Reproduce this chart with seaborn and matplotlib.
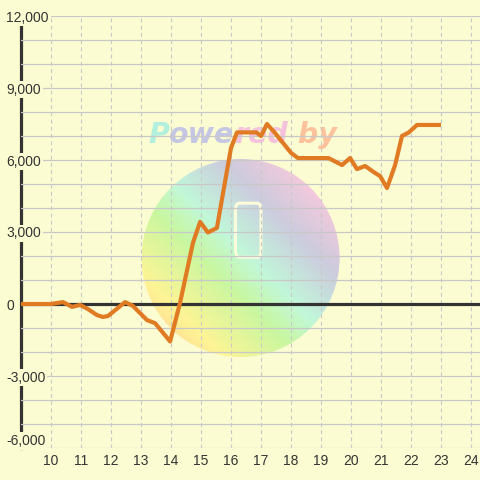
import numpy as np
import pandas as pd
import matplotlib
matplotlib.use("Agg")
import matplotlib.pyplot as plt
import seaborn as sns
from matplotlib.colors import LinearSegmentedColormap
from matplotlib.patches import Ellipse, FancyBboxPatch
from matplotlib.ticker import MultipleLocator, FixedLocator, FuncFormatter

# data
x_vals = [9.0, 10.0, 10.4, 10.7, 10.97, 11.23, 11.53, 11.73, 11.9, 12.47,
          12.73, 13.2, 13.47, 13.97, 14.3, 14.73, 14.97, 15.23, 15.53, 16.0,
          16.2, 16.85, 17.0, 17.2, 17.45, 18.0, 18.23, 19.25, 19.7, 19.97,
          20.2, 20.47, 20.8, 20.97, 21.2, 21.47, 21.7, 21.93, 22.2, 23.0]
y_vals = [0, 0, 80, -120, -40, -210, -460, -540, -500, 80,
          -80, -670, -800, -1560, 40, 2540, 3420, 2980, 3170, 6500,
          7150, 7150, 7000, 7500, 7150, 6300, 6080, 6080, 5790, 6080,
          5620, 5750, 5460, 5330, 4830, 5790, 7000, 7150, 7460, 7460]
x_ticks = list(range(10, 25))
y_ticks = [-6000, -3000, 0, 3000, 6000, 9000, 12000]
watermark_parts = ["P", "owe", "red", " by"]
watermark_colors = ["#b0f0dc", "#c4c6e4", "#f4c2dc", "#fcc29c"]

bg = "#fcfcd2"
line_color = "#e07b24"
dark = "#333333"

df = pd.DataFrame({"x": x_vals, "y": y_vals})

sns.set_theme(style="white")
plt.rcParams["font.family"] = ["Liberation Sans", "DejaVu Sans"]

fig = plt.figure(figsize=(4.8, 4.8), dpi=100, facecolor=bg)
ax = fig.add_axes([21 / 480, 32 / 480, 459 / 480, 432 / 480])
ax.set_facecolor(bg)

# pastel watermark disc
cmap = LinearSegmentedColormap.from_list("wm", [
    (0.0, "#ffb890"), (0.2, "#fff490"), (0.4, "#c4f79c"), (0.52, "#bcf7da"),
    (0.7, "#c8c8e0"), (0.88, "#fac4dc"), (1.0, "#ffc6d6")])
cx, cy, rx, ry = 16.32, 1917, 3.3, 4125
u, v = np.meshgrid(np.linspace(-1, 1, 200), np.linspace(-1, 1, 200))
grad = (u + v) / (2 * np.sqrt(2)) + 0.5
img = ax.imshow(grad, cmap=cmap, origin="lower", aspect="auto", alpha=0.92,
                extent=[cx - rx, cx + rx, cy - ry, cy + ry], zorder=0.3,
                interpolation="bilinear")
disc = Ellipse((cx, cy), 2 * rx, 2 * ry, transform=ax.transData)
img.set_clip_path(disc)

# little logo outline inside the disc
logo = FancyBboxPatch((16.15, 1950), 0.85, 2250, boxstyle="round,pad=0,rounding_size=0.12",
                      mutation_aspect=2500, facecolor="none", edgecolor="#fcfcdc",
                      lw=2.2, zorder=0.32)
ax.add_patch(logo)

# "Powered by" watermark text
prev = ax.text(148 / 480, 1 - 143 / 480, watermark_parts[0], transform=fig.transFigure,
               fontsize=20.5, fontweight="bold", fontstyle="oblique",
               family="DejaVu Sans", color=watermark_colors[0], va="baseline",
               ha="left", zorder=0.35)
for part, col in zip(watermark_parts[1:], watermark_colors[1:]):
    prev = ax.annotate(part, xy=(1, 0), xycoords=prev, fontsize=20.5,
                       fontweight="bold", fontstyle="oblique", family="DejaVu Sans",
                       color=col, va="bottom", ha="left", zorder=0.35)

# zero line and data line
ax.axhline(0, color=dark, lw=2.3, zorder=1)
sns.lineplot(data=df, x="x", y="y", color=line_color, lw=3, ax=ax, zorder=3,
             solid_capstyle="butt")

ax.set_xlim(9, 24.3)
ax.set_ylim(-6000, 12000)
ax.set_xlabel("")
ax.set_ylabel("")

ax.set_axisbelow(True)
ax.xaxis.set_major_locator(FixedLocator(x_ticks))
ax.yaxis.set_major_locator(FixedLocator(y_ticks))
ax.yaxis.set_minor_locator(MultipleLocator(1000))
ax.yaxis.set_major_formatter(FuncFormatter(lambda val, pos: f"{int(val):,}"))

ax.grid(axis="y", which="both", color="#c8c8c8", lw=0.9, ls="-")
ax.grid(axis="x", which="major", color="#c8c8c8", lw=0.8, ls=(0, (3.5, 3)))

ax.tick_params(axis="both", which="both", length=0, labelsize=10, labelcolor=dark)
ax.tick_params(axis="x", pad=4)
ax.tick_params(axis="y", pad=10.5)

for sp in ["top", "right", "bottom"]:
    ax.spines[sp].set_visible(False)
ax.spines["left"].set_color(dark)
ax.spines["left"].set_linewidth(2.3)
ax.spines["left"].set_zorder(0.45)

for lab in ax.get_yticklabels():
    lab.set_horizontalalignment("left")
    lab.set_bbox(dict(facecolor=bg, edgecolor="none", pad=1.2))
# lowest label sits just above the bottom edge
ax.get_yticklabels()[0].set_verticalalignment("bottom")

fig.savefig("out.png", dpi=100, facecolor=bg)
